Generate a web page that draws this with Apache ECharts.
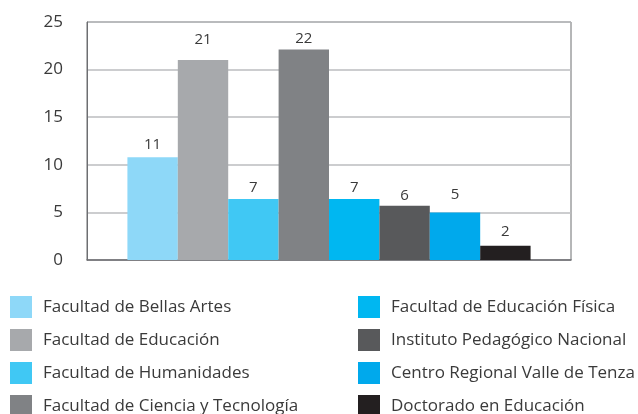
<!DOCTYPE html>
<html lang="es">
<head>
    <meta charset="UTF-8">
    <title>Distribución por unidad académica</title>
    <script src="https://cdn.jsdelivr.net/npm/echarts@6/dist/echarts.min.js"></script>
    <style>
        body { margin: 0; background: #fff; }
        #Chart1 { width: 638px; height: 414px; }
    </style>
</head>
<body>
    <div id="Chart1"></div>

<script>

// units and their values (bar heights as drawn, printed labels)
var units = [
    'Facultad de Bellas Artes',
    'Facultad de Educación',
    'Facultad de Humanidades',
    'Facultad de Ciencia y Tecnología',
    'Facultad de Educación Física',
    'Instituto Pedagógico Nacional',
    'Centro Regional Valle de Tenza',
    'Doctorado en Educación'
];
var values = [10.8, 21, 6.4, 22.1, 6.4, 5.7, 5, 1.5];
var labels = ['11', '21', '7', '22', '7', '6', '5', '2'];
var colors = ['#8ED8F8', '#A7A9AC', '#40C8F4', '#808285', '#00B7F1', '#58595B', '#00A9EC', '#231F20'];
var yTicks = [0, 5, 10, 15, 20, 25];

// gap between bar top and its label (px), uneven in the original
var labelGap = [5, 13, 4, 3, 4, 3, 10, 6];

var textColor = '#3a3a3a';
var fontName = 'Open Sans';

var myChart1 = echarts.init(document.getElementById('Chart1'));

var series = [];
for (var i = 0; i < units.length; i++) {
    series.push({
        name: units[i],
        type: 'bar',
        data: [values[i]],
        barGap: 0,
        barCategoryGap: '16.7%',
        itemStyle: { color: colors[i] },
        label: {
            show: true,
            position: 'top',
            distance: labelGap[i],
            formatter: labels[i],
            color: textColor,
            fontFamily: fontName,
            fontSize: 15
        }
    });
}

// legend runs past the bottom edge, like the original
function makeLegend(names, left) {
    return {
        data: names,
        orient: 'vertical',
        left: left,
        top: 296,
        height: 140,
        itemWidth: 22,
        itemHeight: 22,
        itemGap: 11,
        padding: 0,
        icon: 'rect',
        selectedMode: false,
        textStyle: {
            color: textColor,
            fontFamily: fontName,
            fontSize: 17,
            padding: [0, 0, 0, 6]
        }
    };
}

var option = {
    backgroundColor: '#ffffff',
    animation: false,
    grid: {
        left: 87,
        right: 67,
        top: 22,
        bottom: 154,
        show: true,
        borderColor: '#6D6E71',
        borderWidth: 1
    },
    legend: [
        makeLegend(units.slice(0, 4), 10),
        makeLegend(units.slice(4), 358)
    ],
    xAxis: {
        type: 'category',
        data: [''],
        axisTick: { show: false },
        axisLabel: { show: false },
        axisLine: { lineStyle: { color: '#6D6E71', width: 1.5 } }
    },
    yAxis: {
        type: 'value',
        min: yTicks[0],
        max: yTicks[yTicks.length - 1],
        interval: 5,
        axisLine: { show: true, lineStyle: { color: '#6D6E71' } },
        axisTick: { show: false },
        axisLabel: {
            color: textColor,
            fontFamily: fontName,
            fontSize: 17,
            margin: 24
        },
        splitLine: { lineStyle: { color: '#BBBDBF', width: 1.5 } }
    },
    series: series
};

myChart1.setOption(option);

</script>
</body>
</html>
